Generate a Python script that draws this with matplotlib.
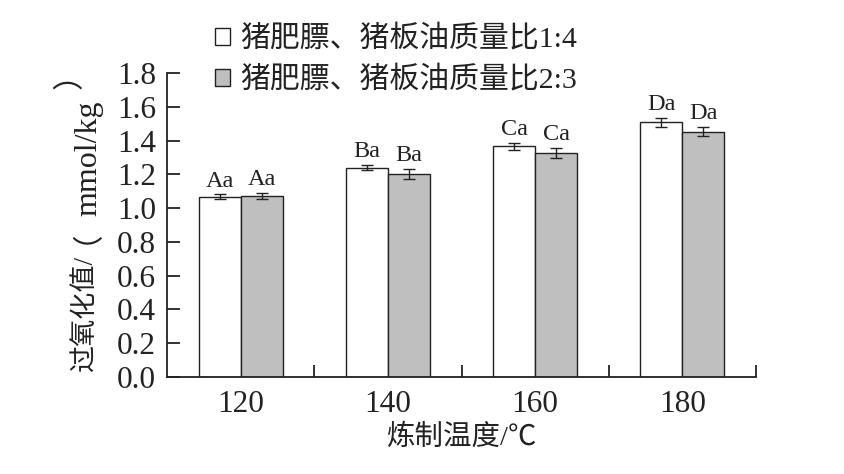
import matplotlib
matplotlib.use("Agg")
import matplotlib.pyplot as plt
import numpy as np

# data
temps = ["120", "140", "160", "180"]
series_names = ["猪肥膘、猪板油质量比1:4", "猪肥膘、猪板油质量比2:3"]
ratio_14 = [1.066, 1.240, 1.367, 1.508]
ratio_23 = [1.072, 1.203, 1.326, 1.453]
err_14 = [0.015, 0.015, 0.020, 0.025]
err_23 = [0.020, 0.028, 0.030, 0.028]
labels_14 = ["Aa", "Ba", "Ca", "Da"]
labels_23 = ["Aa", "Ba", "Ca", "Da"]
# y label "过氧化值/（mmol/kg）" split so each piece gets its own font
ylabel_parts = ["过氧化值/", "（", "mmol/kg", "）"]
xlabel = "炼制温度/℃"

serif = ["Liberation Serif", "Noto Sans CJK SC"]
cjk = ["Noto Sans CJK SC", "Liberation Serif"]
ink = "#222222"

fig = plt.figure(figsize=(8.45, 4.74), dpi=100)
ax = fig.add_axes([167 / 845, 1 - 377 / 474, (756 - 167) / 845, (377 - 73) / 474])

x = np.arange(len(temps))
w = 0.286

b1 = ax.bar(x - w / 2, ratio_14, w, color="white", edgecolor=ink, linewidth=1.0,
            yerr=err_14, capsize=4, error_kw=dict(elinewidth=1.0, capthick=1.0, ecolor=ink),
            label=series_names[0])
b2 = ax.bar(x + w / 2, ratio_23, w, color="#bfbfbf", edgecolor=ink, linewidth=1.0,
            yerr=err_23, capsize=4, error_kw=dict(elinewidth=1.0, capthick=1.0, ecolor=ink),
            label=series_names[1])

# significance letters above the error bars
for xi, v, e, t in zip(x - w / 2, ratio_14, err_14, labels_14):
    ax.annotate(t, (xi, v + e), xytext=(0, 2), textcoords="offset points",
                ha="center", va="bottom", fontsize=17.5, family=serif, color=ink)
for xi, v, e, t in zip(x + w / 2, ratio_23, err_23, labels_23):
    ax.annotate(t, (xi, v + e), xytext=(0, 2), textcoords="offset points",
                ha="center", va="bottom", fontsize=17.5, family=serif, color=ink)

ax.set_xlim(-0.5, 3.5)
ax.set_ylim(0, 1.8)
yt = np.arange(0, 1.81, 0.2)
ax.set_yticks(yt)
ax.set_yticklabels([f"{v:.1f}" for v in yt], family=serif, fontsize=22.5)
ax.set_xticks(x)
ax.set_xticklabels(temps, family=serif, fontsize=22.5)
ax.set_xticks([0.5, 1.5, 2.5, 3.5], minor=True)

ax.tick_params(axis="y", direction="in", length=9, width=1.3, pad=8, colors=ink)
ax.tick_params(axis="x", which="major", length=0, pad=9, colors=ink)
ax.tick_params(axis="x", which="minor", direction="in", length=9, width=1.3, colors=ink)

for s in ["top", "right"]:
    ax.spines[s].set_visible(False)
for s in ["left", "bottom"]:
    ax.spines[s].set_linewidth(1.3)
    ax.spines[s].set_color(ink)

ax.set_xlabel(xlabel, family=serif, fontsize=20.5, labelpad=4, color=ink)

# y label pieces, placed by pixel centre (x, y from top)
part_pos = [(85, 313), (70, 229), (89, 158), (70, 74)]
part_font = [(serif, 19.5), (cjk, 22), (["Liberation Serif"], 23), (cjk, 22)]
for txt, (px, py), (fam, fs) in zip(ylabel_parts, part_pos, part_font):
    fig.text(px / 845, 1 - py / 474, txt, rotation=90, ha="center", va="center",
             family=fam, fontsize=fs, color=ink)

fig.legend(handles=[b1, b2], labels=series_names, loc="upper left",
           bbox_to_anchor=(215 / 845, 1 - 25 / 474), frameon=False, borderaxespad=0,
           prop=dict(family=serif, size=21.5), handlelength=0.5, handleheight=0.5,
           handletextpad=0.33, labelspacing=0.45, borderpad=0, labelcolor=ink)

fig.savefig("out.png", dpi=100)
